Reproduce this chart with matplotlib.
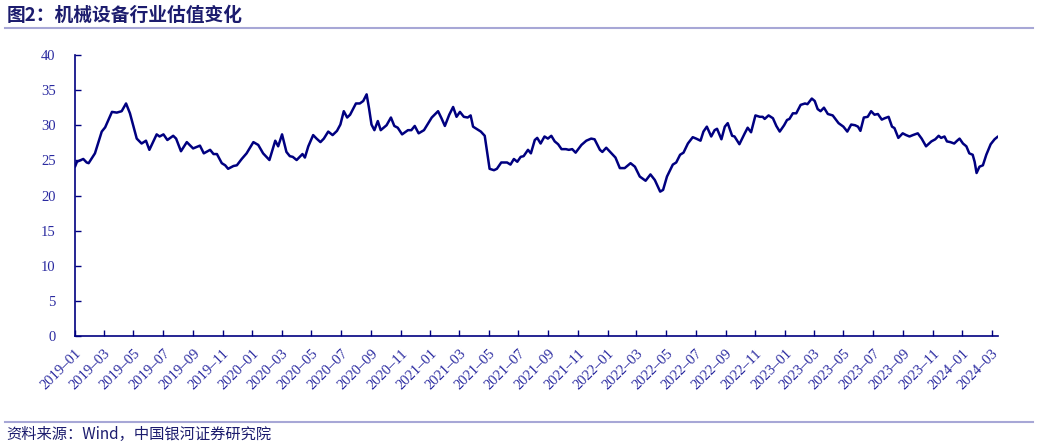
import pandas as pd
import matplotlib
matplotlib.use('Agg')
import matplotlib.pyplot as plt
import matplotlib.dates as mdates
from matplotlib.lines import Line2D

# PE series
dates = [
    '2019-01-01', '2019-01-05', '2019-01-18', '2019-01-25', '2019-01-29', '2019-02-11', '2019-02-25',
    '2019-03-04', '2019-03-18', '2019-03-28', '2019-04-07', '2019-04-16', '2019-04-24', '2019-05-08',
    '2019-05-18', '2019-05-27', '2019-06-03', '2019-06-18', '2019-06-24', '2019-07-02', '2019-07-10',
    '2019-07-22', '2019-07-28', '2019-08-07', '2019-08-19', '2019-09-01', '2019-09-15', '2019-09-23',
    '2019-10-06', '2019-10-13', '2019-10-20', '2019-10-30', '2019-11-06', '2019-11-12', '2019-11-23',
    '2019-11-30', '2019-12-10', '2019-12-20', '2020-01-03', '2020-01-13', '2020-01-23', '2020-02-05',
    '2020-02-17', '2020-02-23', '2020-03-02', '2020-03-11', '2020-03-18', '2020-03-24', '2020-04-01',
    '2020-04-13', '2020-04-18', '2020-04-25', '2020-05-05', '2020-05-12', '2020-05-20', '2020-05-27',
    '2020-06-05', '2020-06-14', '2020-06-23', '2020-06-30', '2020-07-07', '2020-07-14', '2020-07-20',
    '2020-08-01', '2020-08-09', '2020-08-16', '2020-08-23', '2020-08-28', '2020-09-02', '2020-09-08',
    '2020-09-15', '2020-09-21', '2020-10-03', '2020-10-12', '2020-10-19', '2020-10-26', '2020-11-04',
    '2020-11-16', '2020-11-23', '2020-11-30', '2020-12-08', '2020-12-19', '2021-01-04', '2021-01-17',
    '2021-01-24', '2021-01-31', '2021-02-09', '2021-02-17', '2021-02-24', '2021-03-03', '2021-03-11',
    '2021-03-19', '2021-03-25', '2021-03-30', '2021-04-06', '2021-04-15', '2021-04-23', '2021-04-28',
    '2021-05-03', '2021-05-12', '2021-05-18', '2021-05-27', '2021-06-08', '2021-06-15', '2021-06-22',
    '2021-06-29', '2021-07-06', '2021-07-12', '2021-07-21', '2021-07-27', '2021-08-04', '2021-08-09',
    '2021-08-16', '2021-08-24', '2021-08-31', '2021-09-07', '2021-09-14', '2021-09-21', '2021-09-28',
    '2021-10-07', '2021-10-13', '2021-10-20', '2021-10-27', '2021-11-08', '2021-11-18', '2021-11-28',
    '2021-12-05', '2021-12-16', '2021-12-21', '2021-12-29', '2022-01-09', '2022-01-17', '2022-01-26',
    '2022-02-05', '2022-02-17', '2022-02-26', '2022-03-08', '2022-03-20', '2022-03-30', '2022-04-08',
    '2022-04-19', '2022-04-25', '2022-05-03', '2022-05-15', '2022-05-22', '2022-05-30', '2022-06-06',
    '2022-06-15', '2022-06-25', '2022-07-02', '2022-07-11', '2022-07-17', '2022-07-24', '2022-08-02',
    '2022-08-09', '2022-08-14', '2022-08-23', '2022-08-30', '2022-09-05', '2022-09-14', '2022-09-19',
    '2022-09-29', '2022-10-10', '2022-10-16', '2022-10-23', '2022-11-01', '2022-11-10', '2022-11-16',
    '2022-11-20', '2022-11-28', '2022-12-07', '2022-12-14', '2022-12-21', '2022-12-30', '2023-01-05',
    '2023-01-10', '2023-01-17', '2023-01-24', '2023-02-02', '2023-02-11', '2023-02-16', '2023-02-25',
    '2023-03-03', '2023-03-09', '2023-03-15', '2023-03-22', '2023-03-30', '2023-04-09', '2023-04-21',
    '2023-05-01', '2023-05-09', '2023-05-17', '2023-05-25', '2023-05-31', '2023-06-05', '2023-06-12',
    '2023-06-20', '2023-06-27', '2023-07-04', '2023-07-11', '2023-07-19', '2023-07-25', '2023-08-02',
    '2023-08-09', '2023-08-14', '2023-08-22', '2023-08-31', '2023-09-07', '2023-09-14', '2023-09-21',
    '2023-10-01', '2023-10-09', '2023-10-18', '2023-10-29', '2023-11-06', '2023-11-13', '2023-11-18',
    '2023-11-25', '2023-11-30', '2023-12-07', '2023-12-15', '2023-12-21', '2023-12-26', '2024-01-02',
    '2024-01-09', '2024-01-15', '2024-01-22', '2024-01-26', '2024-01-30', '2024-02-05', '2024-02-12',
    '2024-02-19', '2024-02-28', '2024-03-07', '2024-03-14',
]
pe = [
    24.1, 24.8, 25.2, 24.7, 24.6, 26.0, 29.1,
    29.7, 31.9, 31.8, 32.0, 33.1, 31.7, 28.1,
    27.4, 27.8, 26.5, 28.7, 28.4, 28.7, 27.9,
    28.5, 28.1, 26.3, 27.6, 26.7, 27.1, 26.0,
    26.5, 25.9, 25.9, 24.6, 24.3, 23.8, 24.2,
    24.3, 25.2, 26.0, 27.6, 27.2, 26.0, 25.05,
    27.8, 27.0, 28.7, 26.2, 25.6, 25.5, 25.05,
    25.9, 25.4, 27.0, 28.6, 28.1, 27.6, 28.1,
    29.1, 28.6, 29.2, 30.1, 32.0, 31.1, 31.5,
    33.1, 33.1, 33.45, 34.4, 32.4, 30.1, 29.3,
    30.6, 29.3, 30.0, 31.1, 29.9, 29.65, 28.7,
    29.3, 29.3, 29.9, 28.85, 29.3, 31.1, 32.0,
    31.0, 29.9, 31.5, 32.6, 31.2, 31.9, 31.2,
    31.1, 31.4, 29.8, 29.5, 29.1, 28.5, 26.2,
    23.8, 23.6, 23.8, 24.7, 24.7, 24.4, 25.2,
    24.8, 25.5, 25.6, 26.5, 26.0, 27.9, 28.2,
    27.4, 28.4, 28.1, 28.5, 27.7, 27.3, 26.6,
    26.6, 26.5, 26.6, 26.1, 27.2, 27.8, 28.1,
    28.0, 26.5, 26.2, 26.8, 26.0, 25.4, 23.9,
    23.9, 24.6, 24.1, 22.7, 22.1, 23.0, 22.2,
    20.55, 20.8, 22.7, 24.4, 24.7, 25.8, 26.1,
    27.4, 28.3, 28.1, 27.8, 29.1, 29.8, 28.4,
    29.3, 29.5, 28.0, 29.8, 30.3, 28.5, 28.4,
    27.3, 28.85, 29.65, 29.0, 31.4, 31.2, 31.2,
    30.9, 31.4, 31.0, 29.9, 29.1, 30.0, 30.75,
    30.9, 31.7, 31.7, 32.9, 33.1, 33.0, 33.8,
    33.45, 32.3, 32.0, 32.5, 31.6, 31.4, 30.3,
    29.8, 29.1, 30.1, 30.0, 29.8, 29.2, 31.1,
    31.2, 32.0, 31.5, 31.6, 30.8, 31.0, 31.2,
    29.8, 29.6, 28.2, 28.85, 28.6, 28.4, 28.6,
    28.85, 28.1, 27.0, 27.7, 28.0, 28.5, 28.2,
    28.4, 27.7, 27.6, 27.4, 27.8, 28.1, 27.4,
    27.0, 26.0, 25.8, 24.8, 23.2, 24.1, 24.3,
    25.8, 27.3, 28.0, 28.4,
]
y_ticks = [0, 5, 10, 15, 20, 25, 30, 35, 40]

title = '图2：机械设备行业估值变化'
source = '资料来源：Wind，中国银河证券研究院'

navy = '#000080'
label_blue = '#2a2aa0'

x = pd.to_datetime(dates)

fig = plt.figure(figsize=(10.39, 4.46), dpi=100)
ax = fig.add_axes([0.0722, 0.2466, 0.8883, 0.6301])

ax.plot(x, pe, color=navy, linewidth=1.8, solid_joinstyle='round', solid_capstyle='round')

ax.set_xlim(x[0], x[-1])
ax.set_ylim(0, 40)
ax.set_yticks(y_ticks)

ax.xaxis.set_major_locator(mdates.MonthLocator(bymonth=[1, 3, 5, 7, 9, 11]))
ax.xaxis.set_major_formatter(mdates.DateFormatter('%Y–%m'))

for s in ['top', 'right']:
    ax.spines[s].set_visible(False)
for s in ['left', 'bottom']:
    ax.spines[s].set_color(navy)
    ax.spines[s].set_linewidth(1.2)

ax.tick_params(axis='both', direction='in', color=navy, length=4, width=1,
               labelcolor=label_blue, labelsize=10.5)
ax.tick_params(axis='y', pad=14)
ax.tick_params(axis='x', pad=8)
for lab in ax.get_yticklabels():
    lab.set_family('Liberation Serif')
for lab in ax.get_xticklabels():
    lab.set_family('Liberation Serif')
    lab.set_rotation(45)
    lab.set_ha('right')
    lab.set_va('top')
    lab.set_rotation_mode('anchor')

# header and footer
fig.text(0.006, 0.965, title, fontsize=13.5, fontweight='bold', color='#1c1c6e',
         family=['Noto Sans CJK SC', 'DejaVu Sans'], va='center', ha='left')
fig.add_artist(Line2D([0.005, 0.994], [0.938, 0.938], color='#a7a7d6', linewidth=1.5))
fig.add_artist(Line2D([0.005, 0.994], [0.054, 0.054], color='#a7a7d6', linewidth=1.5))
fig.text(0.006, 0.027, source, fontsize=11, color='#1c1c6e', style='italic',
         family=['Noto Sans CJK SC', 'DejaVu Sans'], va='center', ha='left')

fig.savefig('out.png', dpi=100)
